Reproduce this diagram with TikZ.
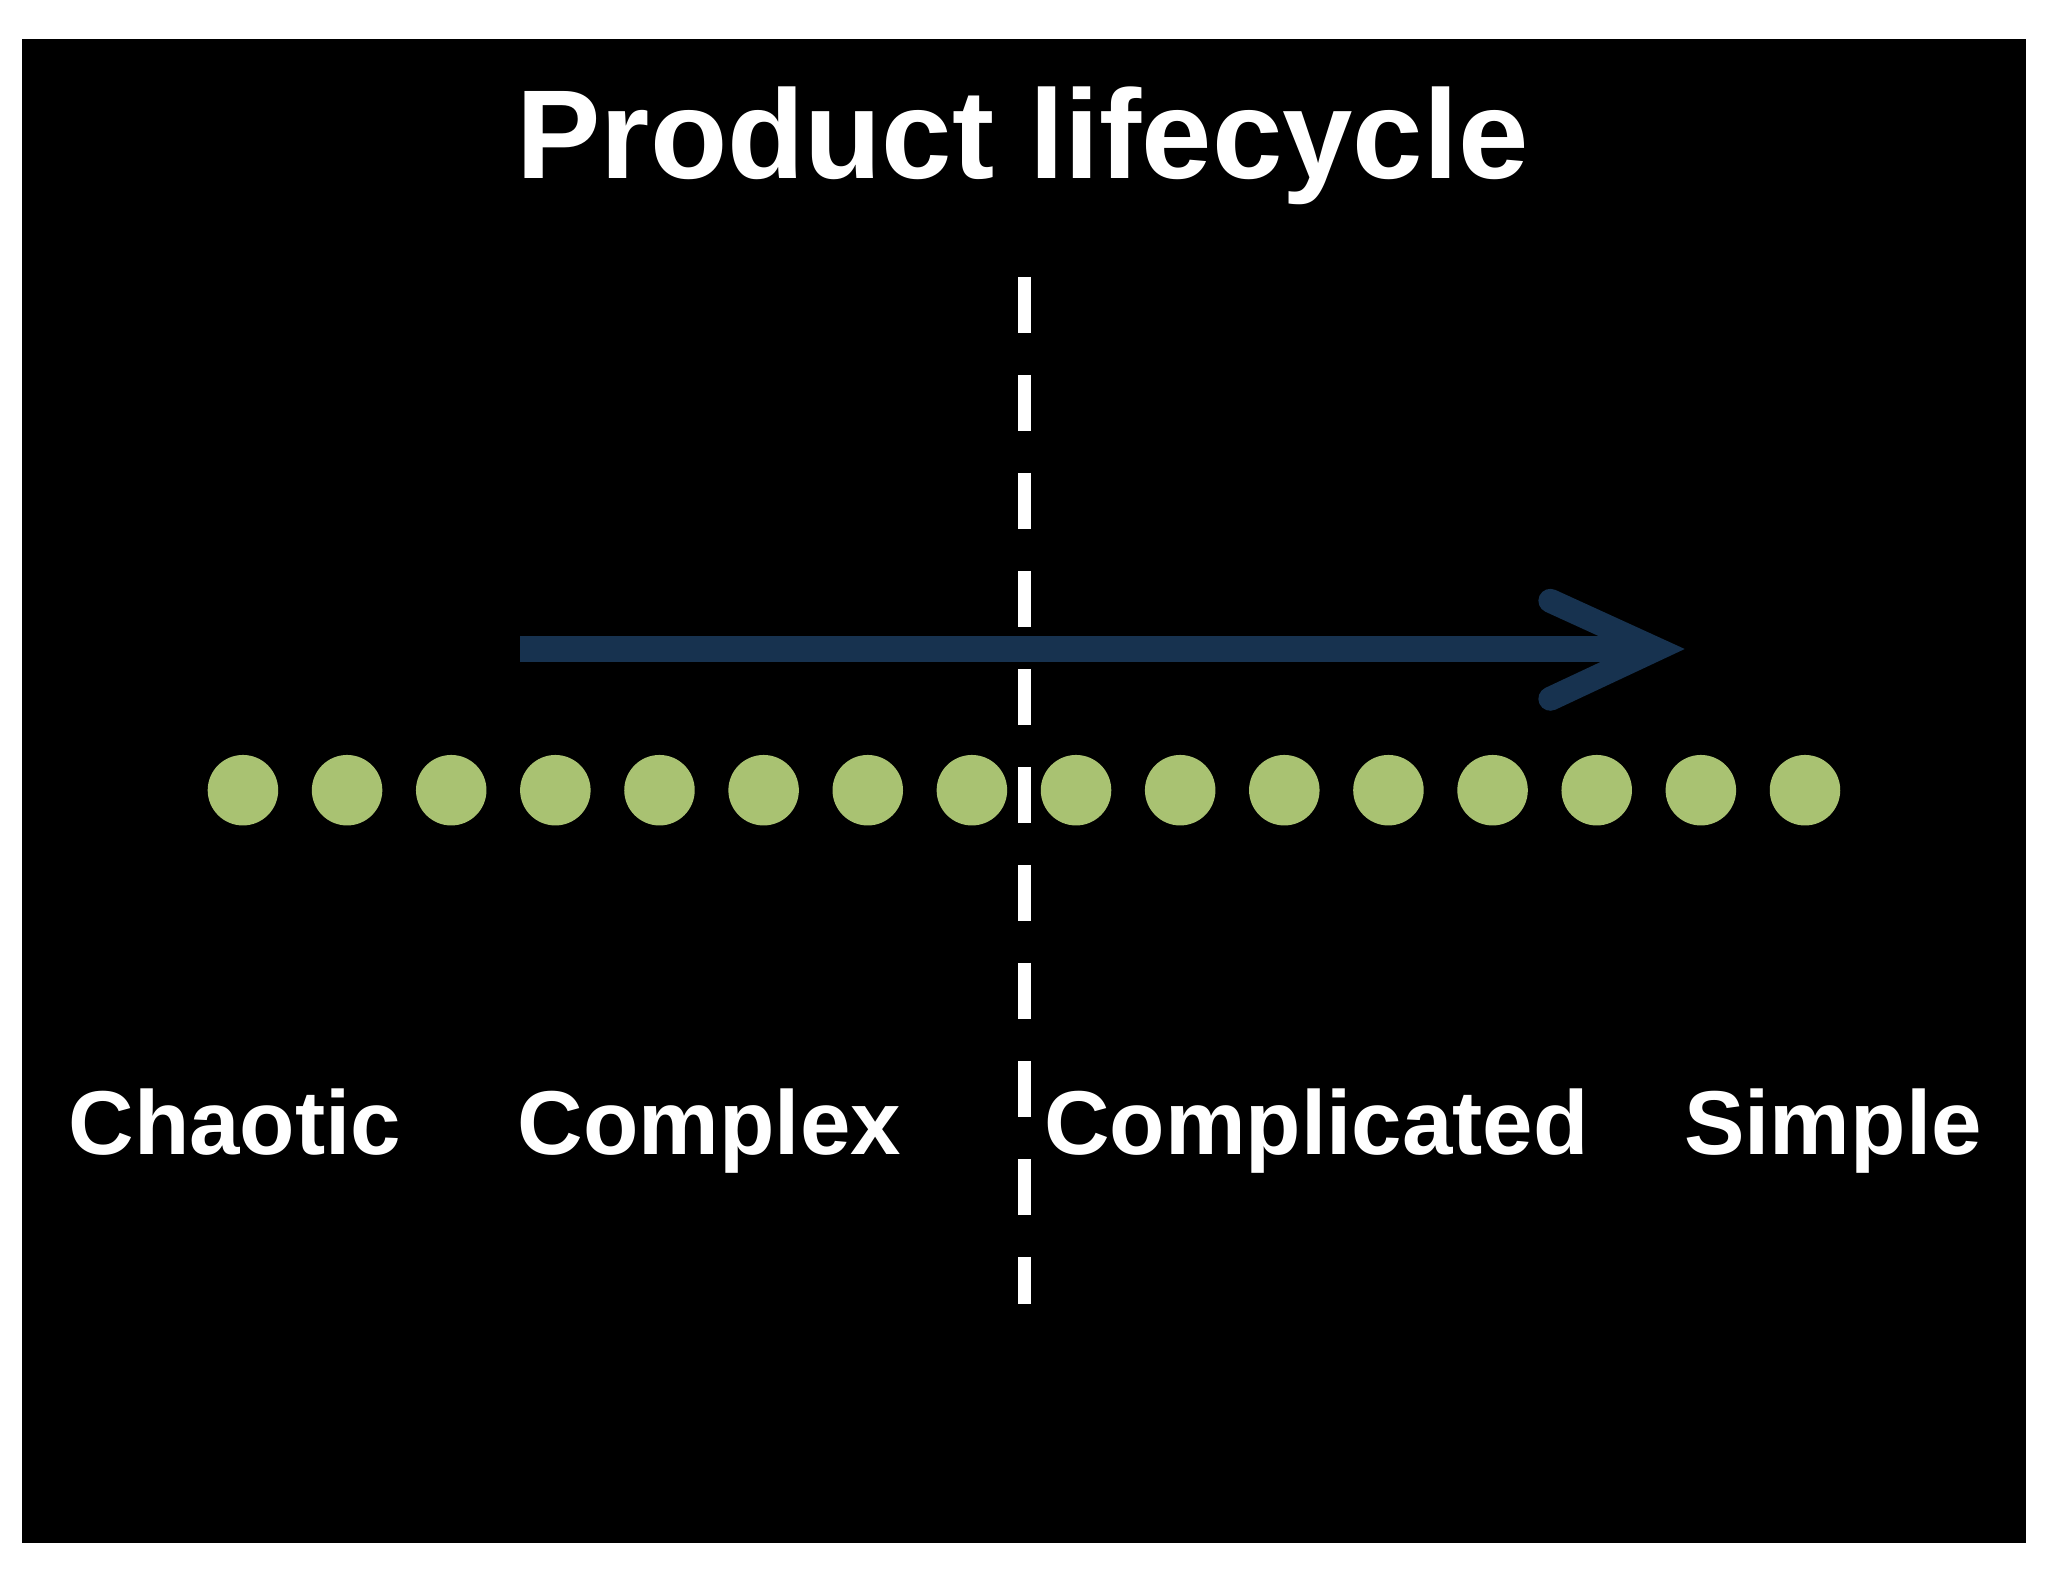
\documentclass[tikz,border=0pt]{standalone}
\usepackage{fontspec}
\setmainfont{Liberation Sans}
\definecolor{arrowblue}{HTML}{17324F}
\definecolor{dotgreen}{HTML}{A9C272}
\begin{document}
\begin{tikzpicture}[x=0.01306cm,y=-0.01306cm,
  lab/.style={text=white,font=\fontsize{25.8}{30}\selectfont\bfseries,anchor=base west,inner sep=0},
  dot/.style={circle,fill=dotgreen,minimum size=54\pgflinewidth*0+0.705cm,inner sep=0}]
\useasboundingbox[fill=white] (0,0) rectangle (1568,1211);
\fill[black] (17,30) rectangle (1551,1181);
\node[text=white,font=\fontsize{36}{40}\selectfont\bfseries,anchor=base,inner sep=0] (title) at (783,137) {Product lifecycle};
\coordinate (dtop) at (784,212);
\coordinate (dbot) at (784,998);
\draw[white,line width=0.13cm,dash pattern=on 0.56cm off 0.42cm] (dtop) -- (dbot);
\coordinate (as) at (398,497);
\coordinate (ae) at (1262,497);
\coordinate (h1) at (1187,460);
\coordinate (h2) at (1187,535);
\coordinate (tip) at (1268,497);
\draw[arrowblue,line width=0.26cm] (as) -- (ae);
\draw[arrowblue,line width=0.24cm,line cap=round,line join=miter] (h1) -- (tip) -- (h2);
\foreach \i in {0,...,15}{
  \node[dot] (d\i) at ({186+79.73*\i},605) {};
}
\node[lab] (chaotic) at (52,884) {Chaotic};
\node[lab] (complex) at (396,884) {Complex};
\node[lab] (complicated) at (799,884) {Complicated};
\node[lab] (simple) at (1289,884) {Simple};
\end{tikzpicture}
\end{document}
